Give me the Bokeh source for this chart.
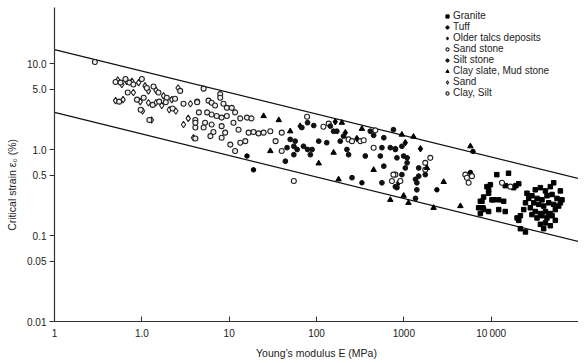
from bokeh.plotting import figure
from bokeh.models import Range1d, FixedTicker, Legend, LegendItem
from bokeh.embed import file_html
from bokeh.resources import INLINE

# ---------------- data ----------------
x_ticks = [0.1, 1, 10, 100, 1000, 10000, 100000]
x_tick_labels = ["1", "1.0", "10", "100", "1000", "10\u2009000", ""]
y_ticks = [0.01, 0.05, 0.1, 0.5, 1, 5, 10]
y_tick_labels = ["0.01", "0.05", "0.1", "0.5", "1.0", "5.0", "10.0"]

# boundary lines (end points)
bound_E = [0.1, 100000]
upper_eps = [14.5, 0.46]
lower_eps = [2.7, 0.085]

granite_E = [9800, 9350, 8200, 7520, 10200, 7190, 8050, 7520, 11600, 15800, 14500, 18100, 19200, 20700,
             9350, 8950, 10700, 12200, 13900, 7850, 8200, 12200, 14500, 9350, 19800, 20700, 21600, 21600,
             24700, 25700, 26900, 24700, 23600, 52000, 62000, 32000, 36600, 41800, 47600, 29300, 33500,
             38200, 43600, 49800, 56700, 64700, 30700, 35000, 39900, 45600, 52000, 59300, 62000, 28100,
             32000, 36600, 41800, 47600, 54300, 29300, 33500, 38200, 43600, 49800, 41800, 36600, 47600,
             39900, 54300, 45600]
granite_eps = [0.39, 0.34, 0.28, 0.25, 0.26, 0.21, 0.21, 0.18, 0.51, 0.53, 0.38, 0.36, 0.38, 0.40,
               0.31, 0.37, 0.26, 0.26, 0.25, 0.25, 0.20, 0.20, 0.19, 0.19, 0.16, 0.15, 0.17, 0.12,
               0.11, 0.31, 0.27, 0.24, 0.20, 0.41, 0.33, 0.34, 0.36, 0.33, 0.37, 0.29, 0.27,
               0.26, 0.29, 0.30, 0.27, 0.26, 0.24, 0.23, 0.22, 0.24, 0.23, 0.22, 0.24, 0.21,
               0.19, 0.18, 0.19, 0.18, 0.20, 0.175, 0.16, 0.17, 0.16, 0.17, 0.14, 0.135, 0.13,
               0.12, 0.15, 0.175]

tuff_E = [16, 19, 331, 6190, 5780, 2390]
tuff_eps = [0.84, 0.58, 0.41, 0.95, 0.54, 0.34]

talc_E = [164, 214, 290, 1040, 1550, 870, 65]
talc_eps = [2.1, 1.57, 1.34, 1.2, 1.02, 0.41, 1.87]

sandstone_E = [13300, 16600, 5060, 5280, 5520, 6020, 2010, 1760, 1760, 800, 760, 731, 912, 451,
               78, 120, 138, 233, 255, 318, 347, 472, 55]
sandstone_eps = [0.41, 0.37, 0.51, 0.47, 0.41, 0.49, 0.80, 0.70, 0.58, 0.51, 0.51, 0.43, 0.43, 1.05,
                 2.4, 1.84, 2.0, 1.31, 1.25, 1.25, 1.28, 1.67, 0.43]

siltstone_E = [79, 68, 93, 144, 157, 171, 204, 187, 413, 451, 590, 760, 57, 60, 71, 79, 85, 89,
               106, 131, 223, 233, 362, 561, 538, 700, 800, 834, 590, 834, 255, 561, 950, 800,
               995, 1090, 1090, 1040, 1480, 950, 1360, 1480, 800, 1410, 1760, 1410, 1360,
               50, 55, 46, 44, 55]
siltstone_eps = [2.05, 1.8, 1.9, 1.87, 1.63, 1.63, 1.43, 1.25, 1.63, 1.46, 1.37, 1.7, 1.25, 1.0, 1.09, 1.0, 0.87, 1.0,
                 1.25, 1.2, 1.0, 0.87, 0.84, 1.05, 0.84, 1.05, 1.0, 0.80, 0.64, 0.36, 0.47, 0.41, 1.09, 1.02,
                 0.84, 0.80, 0.70, 0.61, 0.61, 0.51, 0.45, 0.49, 0.37, 0.41, 0.51, 0.34, 0.27,
                 1.31, 1.09, 1.05, 0.73, 0.87]

clayslate_E = [50, 24.8, 37, 29.6, 195, 157, 106, 331, 451, 179, 700, 950, 1290, 1840, 995, 1130,
               2860, 2190, 4440, 5780]
clayslate_eps = [1.63, 2.45, 2.2, 0.96, 2.05, 0.92, 0.69, 1.74, 0.58, 0.45, 0.26, 1.49, 1.41, 0.61, 0.29, 0.24,
                 0.42, 0.21, 0.22, 1.09]

sand_E = [0.53, 0.59, 0.67, 0.77, 0.92, 1.09, 1.19, 1.45, 1.77, 2.2, 2.6, 0.50, 0.61, 0.80, 0.96,
          1.19, 1.45, 1.69, 2.06, 2.45, 1.02, 1.29, 3.6, 3.4, 3.0, 3.9]
sand_eps = [6.4, 5.7, 6.2, 6.2, 6.0, 5.5, 4.8, 4.9, 4.2, 3.8, 5.2, 3.7, 3.8, 4.6, 3.6,
            3.5, 3.5, 3.25, 2.9, 2.8, 2.8, 2.2, 3.4, 2.3, 1.95, 1.37]

clay_E = [0.29, 0.50, 0.57, 0.65, 0.72, 0.80, 1.0, 1.14, 1.36, 1.55, 1.93, 2.4, 2.75, 0.55, 0.69,
          0.88, 1.05, 1.33, 1.58, 1.88, 2.25, 0.97, 1.22, 3.0, 4.3, 4.1, 4.1,
          5.1, 7.9, 7.9, 4.3, 5.8, 6.3, 6.9, 8.6, 9.4, 10.7, 4.5, 5.6, 6.3, 7.2, 8.2, 9.4, 11.7,
          13.4, 16, 18, 4.1, 5.3, 6.3, 8.2, 11.2, 12.8, 5.1, 6.6, 9.0, 16.7, 19, 21.7, 24.8, 29.6,
          4.1, 6.1, 8.2, 10.3, 13.4, 15.3, 11.7, 34, 40, 40]
clay_eps = [10.4, 6.1, 6.0, 6.6, 6.0, 5.7, 6.6, 5.2, 5.4, 4.6, 4.0, 3.9, 4.8, 3.6, 4.6,
            3.8, 4.0, 3.3, 3.6, 3.55, 3.0, 2.9, 2.2, 3.4, 3.6, 2.2, 1.8,
            5.1, 4.4, 4.0, 3.55, 3.7, 3.5, 3.25, 3.4, 3.05, 3.05, 2.7, 2.7, 2.55, 2.45, 2.35, 2.45, 2.7,
            2.3, 2.35, 2.3, 2.05, 2.05, 1.95, 1.87, 2.05, 1.7, 1.8, 1.6, 1.57, 1.57, 1.6, 1.54, 1.57, 1.63,
            1.34, 1.43, 1.37, 1.14, 1.2, 1.25, 0.96, 1.25, 1.57, 0.96]

# ---------------- figure ----------------
p = figure(x_axis_type="log", y_axis_type="log",
           x_range=Range1d(0.1, 100000), y_range=Range1d(0.01, 44.8),
           frame_width=524, frame_height=314,
           min_border_left=54, min_border_right=0, min_border_top=7, min_border_bottom=0,
           output_backend="svg", toolbar_location=None)
p.outline_line_color = None
p.grid.visible = False
p.background_fill_color = "white"
p.border_fill_color = "white"

FONT = "Liberation Sans"

p.line(bound_E, upper_eps, line_color="#111111", line_width=1.3)
p.line(bound_E, lower_eps, line_color="#111111", line_width=1.3)

r_gr = p.scatter(granite_E, granite_eps, marker="square", size=4.5, fill_color="black", line_color="black")
r_tu = p.scatter(tuff_E, tuff_eps, marker="circle", size=4.5, fill_color="black", line_color="black")
r_ta = p.scatter(talc_E, talc_eps, marker="diamond", size=6.5, fill_color="black", line_color="black")
r_ss = p.scatter(sandstone_E, sandstone_eps, marker="circle", size=5, fill_color="white",
                 line_color="#222222", line_width=1.1)
r_si = p.scatter(siltstone_E, siltstone_eps, marker="circle", size=4.8, fill_color="#111111", line_color="#111111")
r_cs = p.scatter(clayslate_E, clayslate_eps, marker="triangle", size=5.5, fill_color="black", line_color="black")
r_sa = p.scatter(sand_E, sand_eps, marker="diamond", size=6.5, fill_color="white",
                 line_color="#222222", line_width=1.1)
r_cl = p.scatter(clay_E, clay_eps, marker="circle", size=5, fill_color="#eeeeee",
                 line_color="#222222", line_width=1.1)

# axes
p.xaxis.ticker = FixedTicker(ticks=x_ticks)
p.xaxis.major_label_overrides = {t: l for t, l in zip(x_ticks, x_tick_labels)}
p.yaxis.ticker = FixedTicker(ticks=y_ticks)
p.yaxis.major_label_overrides = {t: l for t, l in zip(y_ticks, y_tick_labels)}

for ax in (p.xaxis[0], p.yaxis[0]):
    ax.axis_line_color = "#3a3030"
    ax.axis_line_width = 1.2
    ax.major_tick_line_color = "#3a3030"
    ax.minor_tick_line_color = None
    ax.major_label_text_font = FONT
    ax.major_label_text_font_size = "10px"
    ax.major_label_text_color = "#222222"
    ax.axis_label_text_font = FONT
    ax.axis_label_text_font_size = "10.5px"
    ax.axis_label_text_font_style = "normal"
    ax.axis_label_text_color = "#222222"

p.xaxis.major_tick_in = 5
p.xaxis.major_tick_out = 0
p.xaxis.major_label_standoff = 6
p.xaxis.axis_label = "Young\u2019s modulus E (MPa)"
p.xaxis.axis_label_standoff = 5

p.yaxis.major_tick_in = 0
p.yaxis.major_tick_out = 5
p.yaxis.major_label_standoff = 3
# trailing figure spaces push the rotated label down to where the reference has it
p.yaxis.axis_label = "Critical strain \u03b5\u2080 (%)" + "\u2007" * 7
p.yaxis.axis_label_standoff = 6

legend = Legend(items=[
    LegendItem(label="Granite", renderers=[r_gr]),
    LegendItem(label="Tuff", renderers=[r_tu]),
    LegendItem(label="Older talcs deposits", renderers=[r_ta]),
    LegendItem(label="Sand stone", renderers=[r_ss]),
    LegendItem(label="Silt stone", renderers=[r_si]),
    LegendItem(label="Clay slate, Mud stone", renderers=[r_cs]),
    LegendItem(label="Sand", renderers=[r_sa]),
    LegendItem(label="Clay, Silt", renderers=[r_cl]),
], location=(389, 223))
legend.background_fill_alpha = 0
legend.border_line_color = None
legend.padding = 0
legend.margin = 0
legend.spacing = 0
legend.glyph_width = 8
legend.glyph_height = 10
legend.label_height = 10
legend.label_standoff = 2
legend.label_text_font = FONT
legend.label_text_font_size = "10px"
legend.label_text_color = "#222222"
p.add_layout(legend)

open("out.html", "w").write(file_html(p, INLINE))
